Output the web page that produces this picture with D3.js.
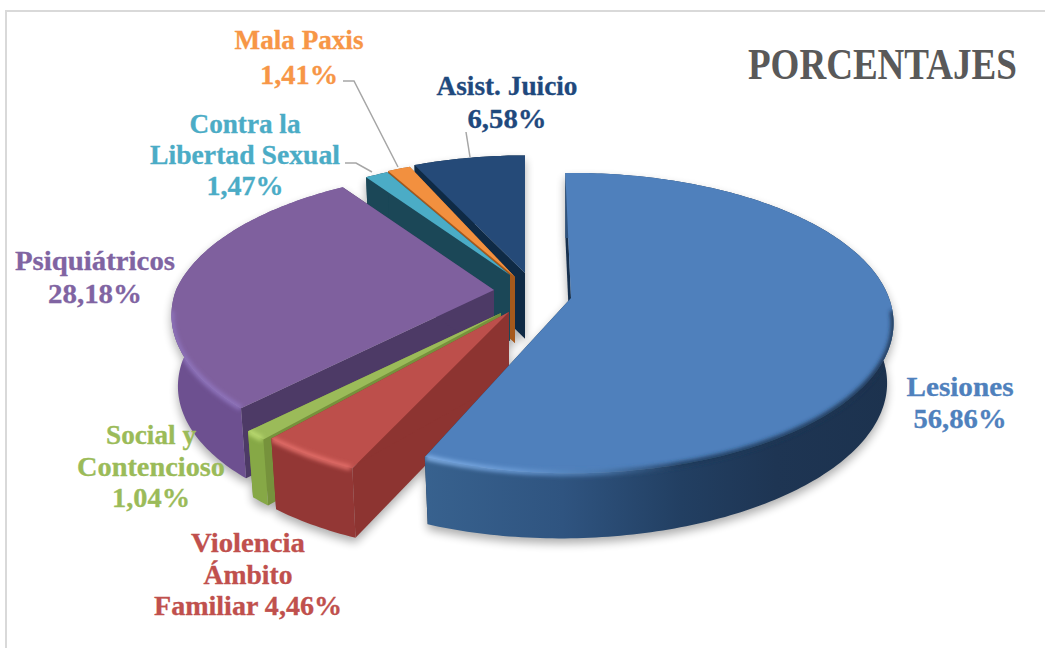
<!DOCTYPE html>
<html><head><meta charset="utf-8">
<script src="https://cdnjs.cloudflare.com/ajax/libs/d3/7.8.5/d3.min.js"></script>
<style>html,body{margin:0;padding:0;background:#fff}svg{display:block}text{font-family:"Liberation Serif",serif;font-weight:700}</style>
</head><body><svg id="c" width="1045" height="648"></svg>
<script>
// ---- data
const categories = ["Lesiones","Violencia Ámbito Familiar","Social y Contencioso","Psiquiátricos","Contra la Libertad Sexual","Mala Paxis","Asist. Juicio"];
const values = [56.86,4.46,1.04,28.18,1.47,1.41,6.58];
const labelLines = [["Lesiones","56,86%"],["Violencia","Ámbito","Familiar 4,46%"],["Social y","Contencioso","1,04%"],["Psiquiátricos","28,18%"],["Contra la","Libertad Sexual","1,47%"],["Mala Paxis","1,41%"],["Asist. Juicio","6,58%"]];
const title = "PORCENTAJES";
// ---- styles
const topColors  = ["#4f80bc","#bd4f4b","#9bbb59","#7f609e","#4bacc6","#f2903f","#254a78"];
const textColors = ["#4f81bd","#c0504d","#9bbb59","#8064a2","#4bacc6","#f79646","#1f497d"];
const wallColors = ["url(#wallBlue)","#933735","#86a846","#6d5090","#1b4757","#a6591c","#0f2a45"];
const radColors  = ["#16304e","#8d3431","#76923c","#4d3a66","#1b4757","#a6591c","#0f2a45"];
const rimColors  = ["url(#rimBlue)","#e4706b","#bcdc72","#8f74bd",null,null,null];
const rimFrom    = [95,205,221,224.5,0,0,0];
const rimTo      = [202.7,220.7,224.5,262,0,0,0];
// ---- layout: explosion of each slice from the pie centre, size factor, small rotation
const pieCx = 570, pieCy = 298;
const explodeX = [1,-61,-69,-76,-60,-55,-45];
const explodeY = [0,14,15,-8,-23,-21,-25];
const sizeFactor = [1,1,1,1,.92,.95,.94];
const backShrink = [0,0,0,.04,0,0,0];
const startNudge = [-1.2,0,0,0,0,0,-1.5];
const endNudge   = [-1.8,0,0,0,0,0,0];
const depthExtra = [0,1,-4,0,0,0,0];
const drawOrder = [6,5,4,3,2,1,0];
const labelX = [960,248,151,95,245,299,507];
const labelY = [[396,428],[552,584,615],[444,476,507],[270,303],[133,164,195],[49,84],[95,128]];
const labelW = [[107,93],[114,89,188],[90,148,78],[160,94],[111,190,77],[129,78],[141,79]];
const leaders = [null,null,null,null,[[345,163],[356,163],[372,172]],[[343,81],[354,81],[398,167]],[[466,132],[470,157]]];

const k = .167;
const depth = d3.scaleLinear().domain([250,900]).range([70,60]);
const xS = d3.scaleLinear().domain([-1,1]).range([-318,318]);
const yS = d3.scaleLinear().domain([-1,1]).range([146,-146]);
const svg = d3.select("#c");
const defs = svg.append("defs");
function blur(id,s){defs.append("filter").attr("id",id).attr("filterUnits","userSpaceOnUse").attr("x",0).attr("y",0).attr("width",1045).attr("height",648)
  .append("feGaussianBlur").attr("stdDeviation",s);}
blur("soft",5); blur("rim",1.9);
function grad(id,stops){const g=defs.append("linearGradient").attr("id",id).attr("gradientUnits","userSpaceOnUse").attr("x1",420).attr("x2",895).attr("y1",0).attr("y2",0);
  stops.forEach(s=>g.append("stop").attr("offset",s[0]).attr("stop-color",s[1]));}
grad("wallBlue",[[0,"#38628f"],[.3,"#2f5480"],[.55,"#223f62"],[.75,"#1e3553"],[1,"#1c324e"]]);
grad("rimBlue",[[0,"#86b4ea"],[.2,"#6a9bd6"],[.38,"#4a78ad"],[.55,"#1f3a5a"],[1,"#1c324e"]]);

svg.append("path").attr("d",d3.line()([[6,648],[6,11],[1045,11]])).attr("fill","none").attr("stroke","#d9d9d9").attr("stroke-width",2);

const pieGen = d3.pie().sort(null).value(d=>d);
const arcs = pieGen(values);
const rad = d=>d*Math.PI/180;
const line = d3.line();

function topPt(i,th){const c=Math.cos(th),s=sizeFactor[i]*(1-backShrink[i]*Math.max(0,c))/(1+k*c);
  return [pieCx+explodeX[i]+xS(Math.sin(th)*s), pieCy+explodeY[i]+yS(c*s)];}
function botPt(i,th){const p=topPt(i,th),ax=pieCx+explodeX[i];
  return [ax+(p[0]-ax)*.98, p[1]+depth(p[0])+depthExtra[i]];}
const apexTop=i=>[pieCx+explodeX[i],pieCy+explodeY[i]];
const apexBot=i=>[pieCx+explodeX[i],pieCy+explodeY[i]+depth(pieCx+explodeX[i])+depthExtra[i]];
function samples(a0,a1){const n=Math.max(4,Math.ceil(Math.abs(a1-a0)*60));return d3.range(n+1).map(j=>a0+(a1-a0)*j/n);}

function shapes(i){
  const a0=arcs[i].startAngle+rad(startNudge[i]), a1=arcs[i].endAngle+rad(endNudge[i]), th=samples(a0,a1);
  const arcTop=th.map(t=>topPt(i,t)), arcBot=th.map(t=>botPt(i,t));
  return {
    top: line([apexTop(i),...arcTop])+"Z",
    wall: line([...arcTop,...arcBot.slice().reverse()])+"Z",
    r0: line([apexTop(i),topPt(i,a0),botPt(i,a0),apexBot(i)])+"Z",
    r1: line([apexTop(i),topPt(i,a1),botPt(i,a1),apexBot(i)])+"Z"
  };
}
// soft drop shadow
const sh=svg.append("g").attr("filter","url(#soft)").attr("opacity",.32).attr("transform","translate(0,5)");
drawOrder.forEach(i=>{const s=shapes(i);[s.wall,s.r0,s.r1,s.top].forEach(d=>sh.append("path").attr("d",d).attr("fill","#000"));});

// slices back to front
drawOrder.forEach(i=>{
  const s=shapes(i), g=svg.append("g").attr("class","slice").attr("data-name",categories[i]);
  g.append("path").attr("d",s.r0).attr("fill",radColors[i]);
  g.append("path").attr("d",s.r1).attr("fill",radColors[i]);
  g.append("path").attr("d",s.wall).attr("fill",wallColors[i]);
  g.append("path").attr("d",s.top).attr("fill",topColors[i]);
  if(rimColors[i]){
    const cid="clip"+i; defs.append("clipPath").attr("id",cid).selectAll("path").data([s.top,s.wall]).join("path").attr("d",d=>d);
    g.append("g").attr("clip-path",`url(#${cid})`).append("path")
      .attr("d",line(samples(rad(rimFrom[i]),rad(rimTo[i])).map(t=>topPt(i,t))))
      .attr("fill","none").attr("stroke",rimColors[i]).attr("stroke-width",5).attr("filter","url(#rim)");
  }
});

// leader lines
svg.append("g").selectAll("path").data(leaders.filter(Boolean)).join("path")
  .attr("d",d=>line(d)).attr("fill","none").attr("stroke","#a6a6a6").attr("stroke-width",1.5);

// labels
categories.forEach((c,i)=>{
  labelLines[i].forEach((l,j)=>svg.append("text").attr("text-anchor","middle").attr("font-size",27)
    .attr("fill",textColors[i]).attr("stroke",textColors[i]).attr("stroke-width",.3)
    .attr("x",labelX[i]).attr("y",labelY[i][j]).attr("textLength",labelW[i][j]).attr("lengthAdjust","spacingAndGlyphs").text(l));
});
const tt=svg.append("text").attr("font-size",44).attr("fill","#595959").text(title);
tt.attr("transform",`translate(748,79) scale(${269/tt.node().getComputedTextLength()},1)`);
</script></body></html>
